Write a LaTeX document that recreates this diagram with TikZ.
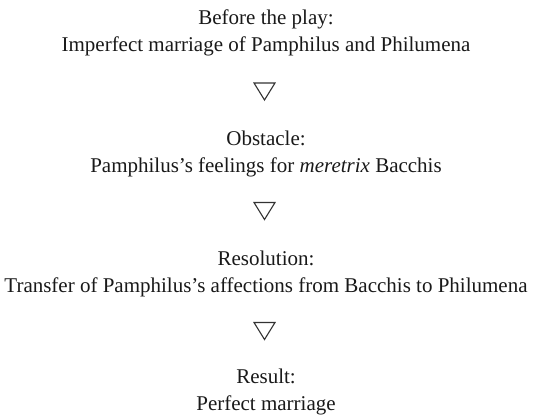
\documentclass[tikz,border=0pt]{standalone}
\usepackage{fontspec}
\setmainfont{Liberation Serif}
\begin{document}
\begin{tikzpicture}[x=1pt,y=-1pt,
  txt/.style={anchor=base,inner sep=0pt,text=black!90,font=\fontsize{21}{27}\selectfont},
  tri/.style={draw=black!80,line width=1.1pt,line join=miter}]
\useasboundingbox (0,0) rectangle (534,414);
\node[txt] (b1a) at (266,25) {Before the play:};
\node[txt] (b1b) at (266,52) {Imperfect marriage of Pamphilus and Philumena};
\node[txt] (b2a) at (266,145) {Obstacle:};
\node[txt] (b2b) at (266,172) {Pamphilus’s feelings for \textit{meretrix} Bacchis};
\node[txt] (b3a) at (266,265) {Resolution:};
\node[txt] (b3b) at (266,292) {Transfer of Pamphilus’s affections from Bacchis to Philumena};
\node[txt] (b4a) at (266,383) {Result:};
\node[txt] (b4b) at (266,410) {Perfect marriage};
\coordinate (t1) at (264.5,91.5);
\coordinate (t2) at (264.5,211);
\coordinate (t3) at (264.5,331);
\foreach \t in {t1,t2,t3}
  \draw[tri] ([shift={(-10.5,-8.5)}]\t) -- ([shift={(10.5,-8.5)}]\t) -- ([shift={(0,8.5)}]\t) -- cycle;
\end{tikzpicture}
\end{document}
